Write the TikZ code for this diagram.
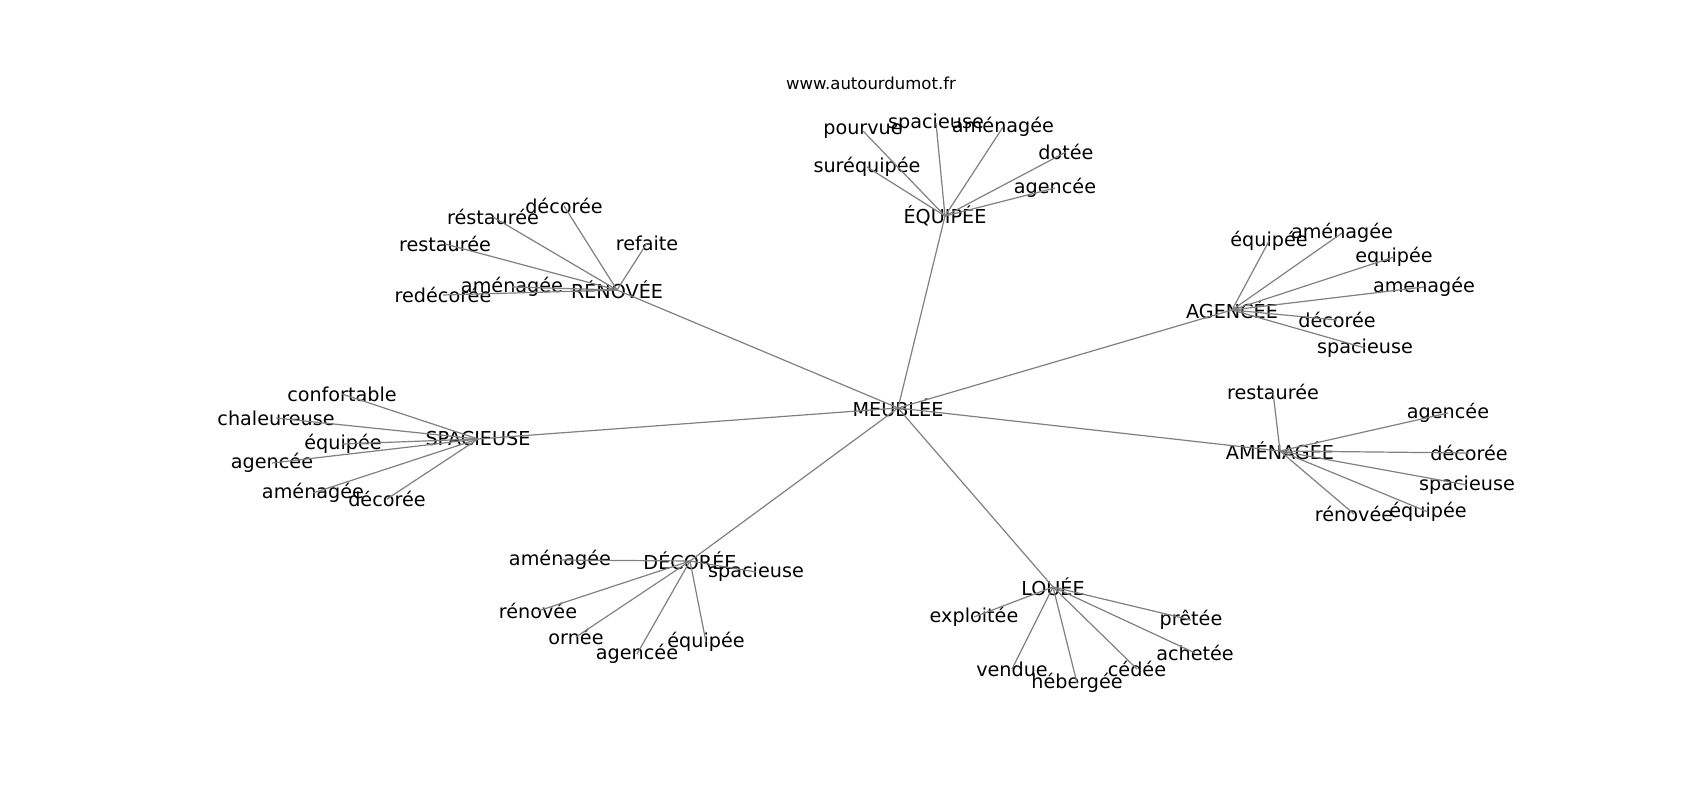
\documentclass[tikz,border=0pt]{standalone}
\usepackage{fontspec}
\setmainfont{DejaVu Sans}
\begin{document}
\begin{tikzpicture}[x=1pt,y=-1pt,
  lbl/.style={inner sep=0pt,font=\fontsize{19.2}{23}\selectfont,text=black},
  ttl/.style={inner sep=0pt,font=\fontsize{16.5}{19}\selectfont,text=black},
  edge/.style={draw=black!50,line width=1.2pt}]
\useasboundingbox[fill=white] (0,0) rectangle (1700,800);
\node[ttl] (title) at (871,83) {www.autourdumot.fr};
% hubs
\node[lbl] (m) at (898,408) {MEUBLÉE};
\node[lbl] (eq) at (945,216) {ÉQUIPÉE};
\node[lbl] (ren) at (617,290) {RÉNOVÉE};
\node[lbl] (ag) at (1232,310) {AGENCÉE};
\node[lbl] (am) at (1280,451) {AMÉNAGÉE};
\node[lbl] (sp) at (478,439) {SPACIEUSE};
\node[lbl] (de) at (690,561) {DÉCORÉE};
\node[lbl] (lo) at (1053,587) {LOUÉE};
% ÉQUIPÉE children
\node[lbl] (eq1) at (863,131) {pourvue};
\node[lbl] (eq2) at (936,123) {spacieuse};
\node[lbl] (eq3) at (1003,127) {aménagée};
\node[lbl] (eq4) at (1066,152) {dotée};
\node[lbl] (eq5) at (1055,188) {agencée};
\node[lbl] (eq6) at (867,167) {suréquipée};
% RÉNOVÉE children
\node[lbl] (re1) at (493,217) {réstaurée};
\node[lbl] (re2) at (564,206) {décorée};
\node[lbl] (re3) at (647,243) {refaite};
\node[lbl] (re4) at (445,244) {restaurée};
\node[lbl] (re5) at (512,287) {aménagée};
\node[lbl] (re6) at (443,295) {redécorée};
% AGENCÉE children
\node[lbl] (ag1) at (1269,241) {équipée};
\node[lbl] (ag2) at (1342,233) {aménagée};
\node[lbl] (ag3) at (1394,257) {equipée};
\node[lbl] (ag4) at (1424,287) {amenagée};
\node[lbl] (ag5) at (1337,320) {décorée};
\node[lbl] (ag6) at (1365,348) {spacieuse};
% AMÉNAGÉE children
\node[lbl] (am1) at (1273,392) {restaurée};
\node[lbl] (am2) at (1448,413) {agencée};
\node[lbl] (am3) at (1469,453) {décorée};
\node[lbl] (am4) at (1467,485) {spacieuse};
\node[lbl] (am5) at (1428,512) {équipée};
\node[lbl] (am6) at (1354,514) {rénovée};
% SPACIEUSE children
\node[lbl] (sp1) at (342,394) {confortable};
\node[lbl] (sp2) at (276,418) {chaleureuse};
\node[lbl] (sp3) at (343,444) {équipée};
\node[lbl] (sp4) at (272,463) {agencée};
\node[lbl] (sp5) at (313,493) {aménagée};
\node[lbl] (sp6) at (387,499) {décorée};
% DÉCORÉE children
\node[lbl] (de1) at (560,560) {aménagée};
\node[lbl] (de2) at (756,572) {spacieuse};
\node[lbl] (de3) at (538,611) {rénovée};
\node[lbl] (de4) at (576,637) {ornée};
\node[lbl] (de5) at (637,654) {agencée};
\node[lbl] (de6) at (706,642) {équipée};
% LOUÉE children
\node[lbl] (lo1) at (974,617) {exploitée};
\node[lbl] (lo2) at (1191,620) {prêtée};
\node[lbl] (lo3) at (1195,653) {achetée};
\node[lbl] (lo4) at (1137,669) {cédée};
\node[lbl] (lo5) at (1077,683) {hébergée};
\node[lbl] (lo6) at (1012,669) {vendue};
% edges
\foreach \h in {eq,ren,ag,am,sp,de,lo}{\draw[edge] (m.center) -- (\h.center);}
\foreach \c in {eq1,eq2,eq3,eq4,eq5,eq6}{\draw[edge] (eq.center) -- (\c.center);}
\foreach \c in {re1,re2,re3,re4,re5,re6}{\draw[edge] (ren.center) -- (\c.center);}
\foreach \c in {ag1,ag2,ag3,ag4,ag5,ag6}{\draw[edge] (ag.center) -- (\c.center);}
\foreach \c in {am1,am2,am3,am4,am5,am6}{\draw[edge] (am.center) -- (\c.center);}
\foreach \c in {sp1,sp2,sp3,sp4,sp5,sp6}{\draw[edge] (sp.center) -- (\c.center);}
\foreach \c in {de1,de2,de3,de4,de5,de6}{\draw[edge] (de.center) -- (\c.center);}
\foreach \c in {lo1,lo2,lo3,lo4,lo5,lo6}{\draw[edge] (lo.center) -- (\c.center);}
\end{tikzpicture}
\end{document}
